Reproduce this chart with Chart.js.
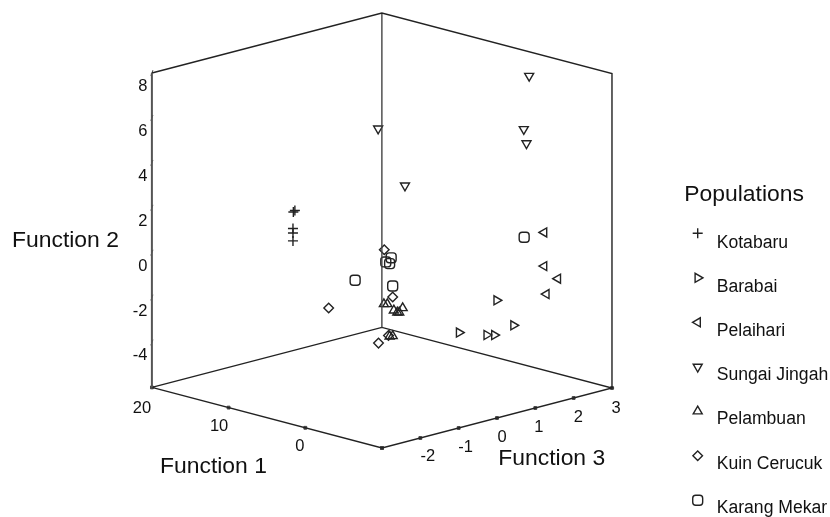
<!DOCTYPE html>
<html>
<head>
<meta charset="utf-8">
<title>Populations</title>
<script src="https://cdn.jsdelivr.net/npm/chart.js@4/dist/chart.umd.js"></script>
<style>
  html, body { margin: 0; padding: 0; background: #fff; }
  canvas { display: block; }
</style>
</head>
<body>
<canvas id="myChart" width="830" height="517"></canvas>
<script>
// values, depth (function 1) is a per-group estimate
const kotabaruF1 = [16, 16, 16, 16, 16];
const kotabaruF2 = [0.93, 0.88, 0.15, -0.05, -0.40];
const kotabaruF3 = [-0.07, -0.11, -0.12, -0.12, -0.12];

const barabaiF1 = [-5, -5, -5, -5, -5];
const barabaiF2 = [-1.65, -2.96, -2.65, -3.08, -3.17];
const barabaiF3 = [0.99, 1.43, 0.01, 0.73, 0.93];

const pelaihariF1 = [-5, -5, -5, -5];
const pelaihariF2 = [0.82, -0.68, -1.40, -1.95];
const pelaihariF3 = [2.23, 2.23, 2.59, 2.29];

const sungaiJingahF1 = [-5, -5, -5, -5, -5];
const sungaiJingahF2 = [7.96, 5.65, 4.99, 7.37, 4.52];
const sungaiJingahF3 = [1.84, 1.70, 1.77, -2.10, -1.40];

const pelambuanF1 = [0, 0, 0, 0, 0, 0, 0, 0];
const pelambuanF2 = [-1.40, -1.44, -1.80, -1.80, -1.93, -1.95, -2.93, -2.91];
const pelambuanF3 = [-0.95, -0.86, -0.69, -0.46, -0.60, -0.55, -0.72, -0.80];

const kuinCerucukF1 = [0, 0, 0, 0, 0];
const kuinCerucukF2 = [1.01, -1.19, -0.94, -3.08, -2.86];
const kuinCerucukF3 = [-0.94, -0.72, -2.39, -1.09, -0.83];

const karangMekarF1 = [0, 0, 0, 0, 0, 0];
const karangMekarF2 = [0.57, 0.45, 0.33, -0.01, -0.70, -0.06];
const karangMekarF3 = [-0.76, -0.90, -0.80, -1.70, -0.72, 2.71];

const f1Ticks = [20, 10, 0];
const f2Ticks = [8, 6, 4, 2, 0, -2, -4];
const f3Ticks = [-2, -1, 0, 1, 2, 3];

const f1Range = [-10, 20];
const f2Range = [-6, 8];
const f3Range = [-3, 3];

const populationNames = ['Kotabaru', 'Barabai', 'Pelaihari', 'Sungai Jingah', 'Pelambuan', 'Kuin Cerucuk', 'Karang Mekar'];

const INK = '#222';
const FONT = '"Liberation Sans", Arial, sans-serif';

// where the tick numbers sit relative to their tick
const f1LabelOffsets = [[-10, 26], [-9.5, 23], [-5.5, 23]];
const f3LabelOffsets = [[7.5, 23], [7, 24], [5, 24], [3.6, 24], [4.7, 24], [4, 25]];

// fixed view of the cube onto the page plane
function project(f1, f2, f3) {
  return {
    x: 382 - (f1 + 10) * 7.67 + (f3 + 3) * 38.33,
    y: 448 - (f1 + 10) * 2.02 - (f3 + 3) * 10 - (f2 + 6) * 22.46,
  };
}

function toPoints(f1s, f2s, f3s) {
  return f1s.map((f1, i) => project(f1, f2s[i], f3s[i]));
}

const markers = [
  { pointStyle: 'cross', radius: 5, rotation: 0 },
  { pointStyle: 'triangle', radius: 5.2, rotation: 90 },
  { pointStyle: 'triangle', radius: 5.2, rotation: 270 },
  { pointStyle: 'triangle', radius: 5.2, rotation: 180 },
  { pointStyle: 'triangle', radius: 5.2, rotation: 0 },
  { pointStyle: 'rectRot', radius: 4.8, rotation: 0 },
  { pointStyle: 'rectRounded', radius: 5.8, rotation: 0 },
];

function scatterSet(label, points, marker) {
  return {
    label: label,
    data: points,
    showLine: false,
    pointStyle: marker.pointStyle,
    pointRadius: marker.radius,
    pointRotation: marker.rotation,
    pointBorderColor: INK,
    pointBackgroundColor: 'transparent',
    pointBorderWidth: 1.4,
  };
}

function edgeSet(corners, color, width) {
  return {
    label: 'edge',
    data: corners.map((c) => project(c[0], c[1], c[2])),
    showLine: true,
    borderColor: color,
    borderWidth: width,
    pointRadius: 0,
    fill: false,
  };
}

function tickSet(points, style, radius, rotation) {
  return {
    label: 'tick',
    data: points,
    showLine: false,
    pointStyle: style,
    pointRadius: radius,
    pointRotation: rotation,
    pointBorderColor: '#444',
    pointBackgroundColor: '#444',
    pointBorderWidth: 1,
  };
}

const [f1Lo, f1Hi] = f1Range;
const [f2Lo, f2Hi] = f2Range;
const [f3Lo, f3Hi] = f3Range;

const datasets = [
  edgeSet([[f1Hi, f2Lo, f3Lo], [f1Hi, f2Hi, f3Lo]], '#555', 2),
  edgeSet([[f1Hi, f2Hi, f3Lo], [f1Hi, f2Hi, f3Hi], [f1Lo, f2Hi, f3Hi], [f1Lo, f2Lo, f3Hi]], INK, 1.4),
  edgeSet([[f1Hi, f2Lo, f3Hi], [f1Hi, f2Hi, f3Hi]], '#444', 1.4),
  edgeSet([[f1Hi, f2Lo, f3Lo], [f1Lo, f2Lo, f3Lo], [f1Lo, f2Lo, f3Hi], [f1Hi, f2Lo, f3Hi], [f1Hi, f2Lo, f3Lo]], INK, 1.4),
  tickSet(f1Ticks.concat(f1Lo).map((t) => project(t, f2Lo, f3Lo)), 'rect', 2, 0),
  tickSet(f3Ticks.concat(f3Lo).map((t) => project(f1Lo, f2Lo, t)), 'rect', 2, 0),
  tickSet(f2Ticks.map((t) => project(f1Hi, t, f3Lo)), 'line', 3, -70),
  scatterSet(populationNames[0], toPoints(kotabaruF1, kotabaruF2, kotabaruF3), markers[0]),
  scatterSet(populationNames[1], toPoints(barabaiF1, barabaiF2, barabaiF3), markers[1]),
  scatterSet(populationNames[2], toPoints(pelaihariF1, pelaihariF2, pelaihariF3), markers[2]),
  scatterSet(populationNames[3], toPoints(sungaiJingahF1, sungaiJingahF2, sungaiJingahF3), markers[3]),
  scatterSet(populationNames[4], toPoints(pelambuanF1, pelambuanF2, pelambuanF3), markers[4]),
  scatterSet(populationNames[5], toPoints(kuinCerucukF1, kuinCerucukF2, kuinCerucukF3), markers[5]),
  scatterSet(populationNames[6], toPoints(karangMekarF1, karangMekarF2, karangMekarF3), markers[6]),
];

// axis texts and the legend, the cube has no real axes for the library to label
const cubeText = {
  id: 'cubeText',
  afterDraw(chart) {
    const ctx = chart.ctx;
    const text = (str, x, y, size, align) => {
      ctx.font = size + 'px ' + FONT;
      ctx.textAlign = align;
      ctx.textBaseline = 'alphabetic';
      ctx.fillStyle = '#111';
      ctx.fillText(str, x, y);
    };

    ctx.save();
    f2Ticks.forEach((t) => {
      const p = project(f1Hi, t, f3Lo);
      text(String(t), 147.5, p.y + 18, 16.5, 'right');
    });
    f1Ticks.forEach((t, i) => {
      const p = project(t, f2Lo, f3Lo);
      text(String(t), p.x + f1LabelOffsets[i][0], p.y + f1LabelOffsets[i][1], 16.5, 'center');
    });
    f3Ticks.forEach((t, i) => {
      const p = project(f1Lo, f2Lo, t);
      text(String(t), p.x + f3LabelOffsets[i][0], p.y + f3LabelOffsets[i][1], 16.5, 'center');
    });

    text('Function 2', 12, 246.7, 22.9, 'left');
    text('Function 1', 160, 472.7, 22.9, 'left');
    text('Function 3', 498.3, 465, 22.9, 'left');
    text('Populations', 684.3, 200.7, 22.9, 'left');

    populationNames.forEach((name, i) => {
      const m = markers[i];
      text(name, 716.7, 247.5 + i * 44.2, 17.6, 'left');
      ctx.strokeStyle = INK;
      ctx.fillStyle = 'transparent';
      ctx.lineWidth = 1.4;
      Chart.helpers.drawPoint(ctx, {
        pointStyle: m.pointStyle,
        radius: m.radius,
        rotation: m.rotation,
        borderWidth: 1.4,
      }, 697.7, 233.3 + i * 44.5);
    });
    ctx.restore();
  },
};

new Chart(document.getElementById('myChart').getContext('2d'), {
  type: 'scatter',
  data: { datasets: datasets },
  plugins: [cubeText],
  options: {
    responsive: false,
    animation: false,
    layout: { padding: 0, autoPadding: false },
    plugins: {
      legend: { display: false },
      tooltip: { enabled: false },
    },
    scales: {
      x: { type: 'linear', display: false, min: 0, max: 830 },
      y: { type: 'linear', display: false, min: 0, max: 517, reverse: true },
    },
  },
});
</script>
</body>
</html>
